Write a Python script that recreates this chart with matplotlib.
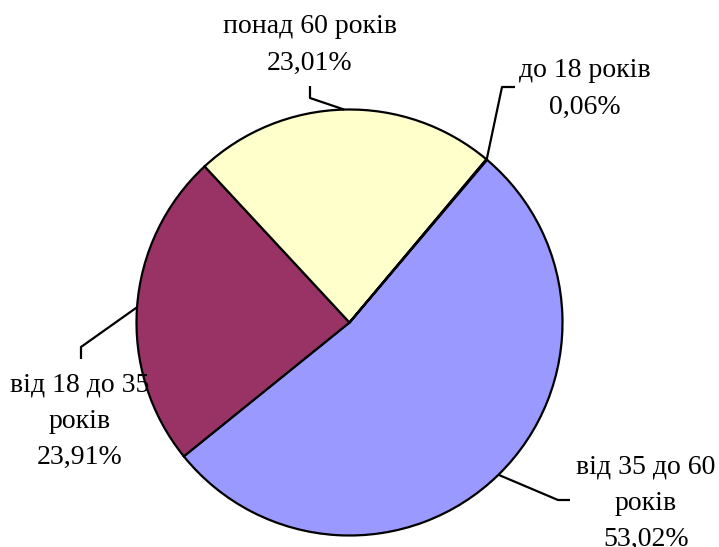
import numpy as np
import matplotlib.pyplot as plt

# Excel order, clockwise from the start angle
labels = ["від 35 до 60\nроків", "від 18 до 35\nроків", "понад 60 років", "до 18 років"]
shares = [53.02, 23.91, 23.01, 0.06]
colors = ["#9999FF", "#993366", "#FFFFCC", "#CCFFFF"]

W, H = 719, 547
fig = plt.figure(figsize=(W / 100, H / 100), dpi=100)
ax = fig.add_axes([0, 0, 1, 1])

cx, cy, r = 349.5, H - 322.5, 213
wedges, _ = ax.pie(shares, colors=colors, startangle=49.8, counterclock=False,
                   center=(cx, cy), radius=r, frame=True,
                   wedgeprops=dict(edgecolor="black", linewidth=1.6))
ax.set_xlim(0, W)
ax.set_ylim(0, H)
ax.set_aspect("equal")
ax.axis("off")

# label text centre (px, top-left origin) and leader elbow points
layout = [
    ((646, 503), [(570, 500), (558, 500)]),
    ((80, 421), [(81, 359), (81, 347)]),
    ((310, 45), [(310, 86), (310, 98)]),
    ((585, 89), [(515, 87), (502, 87)]),
]

font = dict(family="Liberation Serif", fontsize=20)
for w, lab, val, (pos, elbow) in zip(wedges, labels, shares, layout):
    mid = np.deg2rad((w.theta1 + w.theta2) / 2)
    ex, ey = cx + r * np.cos(mid), cy + r * np.sin(mid)
    pts = [(x, H - y) for x, y in elbow] + [(ex, ey)]
    xs, ys = zip(*pts)
    ax.plot(xs, ys, color="black", lw=1.6, solid_capstyle="butt")
    txt = lab + "\n" + f"{val:.2f}%".replace(".", ",")
    ax.text(pos[0], H - pos[1], txt, ha="center", va="center",
            linespacing=1.58, **font)

fig.savefig("out.png", dpi=100)
